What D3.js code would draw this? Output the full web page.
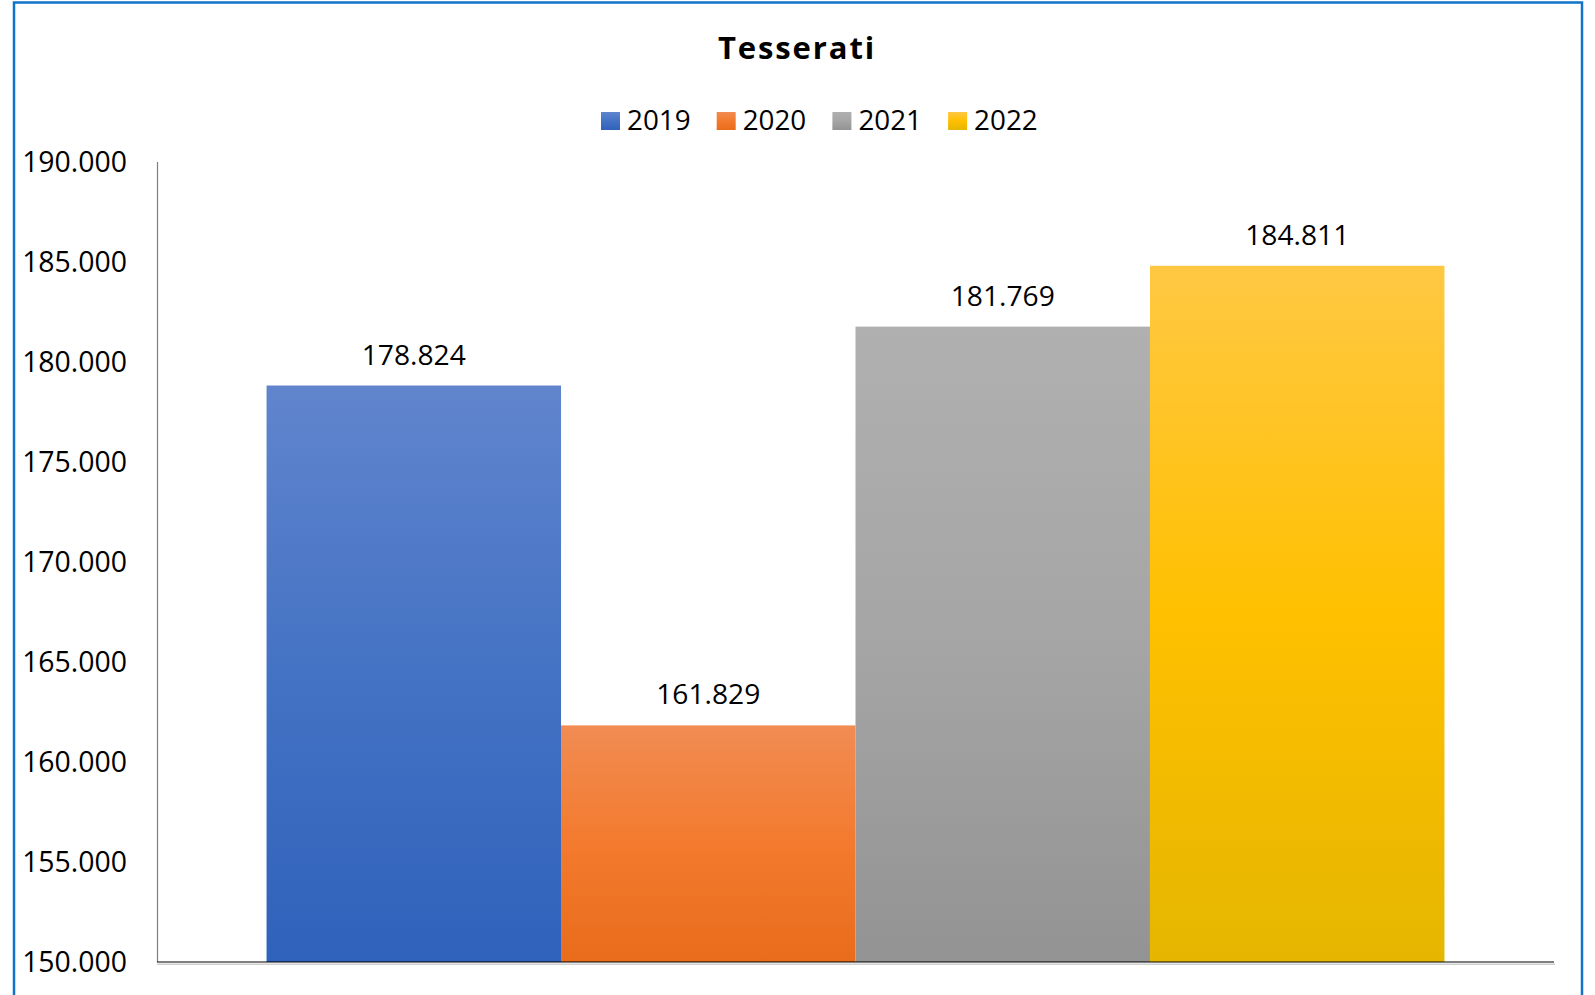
<!DOCTYPE html>
<html>
<head>
<meta charset="utf-8">
<script src="https://cdn.jsdelivr.net/npm/d3@7"></script>
<style>
  html, body { margin: 0; padding: 0; background: #fff; }
  svg { display: block; }
  text { font-family: "Open Sans", "Liberation Sans", sans-serif; fill: #000; }
</style>
</head>
<body>
<svg id="chart" width="1595" height="995"></svg>
<script>
// ---- data ----
const title = "Tesserati";
const years = ["2019", "2020", "2021", "2022"];
const values = [178824, 161829, 181769, 184811];
const yTicks = [150000, 155000, 160000, 165000, 170000, 175000, 180000, 185000, 190000];
const yDomain = [150000, 190000];
// gradient colours per series: top, middle, bottom
const colorsTop = ["#6085cd", "#f18c53", "#b0b0b0", "#ffc843"];
const colorsMid = ["#4472c4", "#f37a2e", "#a5a5a5", "#ffc000"];
const colorsBot = ["#2f62bb", "#e96c1b", "#939393", "#e5b600"];

const svg = d3.select("#chart");
const W = 1595, H = 995;
const plot = { left: 157, right: 1554, top: 162, bottom: 962 };

const it = d3.formatLocale({ decimal: ",", thousands: ".", grouping: [3], currency: ["€", ""] });
const fmt = it.format(",d");

const x = d3.scaleBand().domain(years).range([plot.left, plot.right]).paddingInner(0).paddingOuter(0.372);
const y = d3.scaleLinear().domain(yDomain).range([plot.bottom, plot.top]);

// gradients
const defs = svg.append("defs");
years.forEach((yr, i) => {
  const g = defs.append("linearGradient").attr("id", "grad" + i)
    .attr("x1", 0).attr("y1", 0).attr("x2", 0).attr("y2", 1);
  g.append("stop").attr("offset", "0%").attr("stop-color", colorsTop[i]);
  g.append("stop").attr("offset", "50%").attr("stop-color", colorsMid[i]);
  g.append("stop").attr("offset", "100%").attr("stop-color", colorsBot[i]);
});

// border
svg.append("rect").attr("x", 14).attr("y", 2.5).attr("width", 1568).attr("height", H + 20)
  .attr("fill", "none").attr("stroke", "#0f74c9").attr("stroke-width", 2.5);

// title
svg.append("text").attr("x", 797).attr("y", 59).attr("text-anchor", "middle")
  .style("font-size", "31px").style("font-weight", "700").style("letter-spacing", "1.9px")
  .text(title);

// legend
const legend = svg.append("g");
const legX0 = 601, legStep = 115.7;
years.forEach((yr, i) => {
  const gx = legX0 + i * legStep;
  legend.append("rect").attr("x", gx).attr("y", 112).attr("width", 19).attr("height", 18)
    .attr("fill", "url(#grad" + i + ")");
  legend.append("text").attr("x", gx + 26).attr("y", 130).style("font-size", "27.8px").text(yr);
});

// y axis labels
const yAxis = d3.axisLeft(y).tickValues(yTicks).tickFormat(fmt).tickSize(0).tickPadding(30);
const ga = svg.append("g").attr("transform", `translate(${plot.left},0)`).call(yAxis);
ga.select(".domain").remove();
ga.selectAll("text").style("font-size", "28.4px").attr("fill", "#000")
  .style("font-family", '"Open Sans", sans-serif');

// y axis line
svg.append("line").attr("x1", plot.left + 0.5).attr("x2", plot.left + 0.5)
  .attr("y1", plot.top).attr("y2", plot.bottom).attr("stroke", "#7f7f7f").attr("stroke-width", 1.2);

// bars
svg.append("g").selectAll("rect").data(years).join("rect")
  .attr("x", d => x(d))
  .attr("width", x.bandwidth())
  .attr("y", (d, i) => y(values[i]))
  .attr("height", (d, i) => y(yDomain[0]) - y(values[i]))
  .attr("fill", (d, i) => "url(#grad" + i + ")");

// data labels
svg.append("g").selectAll("text").data(years).join("text")
  .attr("x", d => x(d) + x.bandwidth() / 2)
  .attr("y", (d, i) => y(values[i]) - 21)
  .attr("text-anchor", "middle")
  .style("font-size", "28.2px")
  .text((d, i) => fmt(values[i]));

// baseline (x axis) with soft shadow
svg.append("line").attr("x1", plot.left).attr("x2", plot.right + 1)
  .attr("y1", plot.bottom + 2.2).attr("y2", plot.bottom + 2.2)
  .attr("stroke", "#d0d0d0").attr("stroke-width", 1.5);
svg.append("line").attr("x1", plot.left).attr("x2", plot.right)
  .attr("y1", plot.bottom).attr("y2", plot.bottom)
  .attr("stroke", "#000").attr("stroke-opacity", 0.5).attr("stroke-width", 2.2);
</script>
</body>
</html>
